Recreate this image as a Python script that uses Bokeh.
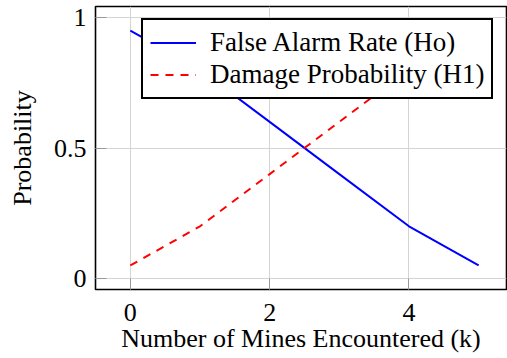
from bokeh.plotting import figure
from bokeh.models import (FixedTicker, Legend, LegendItem, Range1d)
from bokeh.embed import file_html
from bokeh.resources import INLINE

# data
k_values = [0, 1, 2, 3, 4, 5]
false_alarm = [0.95, 0.80, 0.60, 0.40, 0.20, 0.05]
damage_prob = [0.05, 0.20, 0.40, 0.60, 0.80, 0.95]
x_ticks = [0, 2, 4]
x_tick_labels = ["0", "2", "4"]
y_ticks = [0, 0.5, 1]
y_tick_labels = ["0", "0.5", "1"]

FONT = "Liberation Serif"

p = figure(width=507, height=358, output_backend="svg", toolbar_location=None,
           x_range=Range1d(-0.5, 5.4), y_range=Range1d(-0.042, 1.042),
           min_border_left=95, min_border_right=1, min_border_top=6, min_border_bottom=69)

p.outline_line_color = "black"
p.outline_line_alpha = 1
p.outline_line_width = 1.6
p.background_fill_color = "white"
p.border_fill_color = "white"

for ax in (p.xaxis[0], p.yaxis[0]):
    ax.axis_line_color = None
    ax.major_tick_in = 11
    ax.major_tick_out = 0
    ax.major_tick_line_color = "#999999"
    ax.major_tick_line_width = 1
    ax.minor_tick_line_color = None
    ax.major_label_text_font = FONT
    ax.major_label_text_font_size = "26px"
    ax.major_label_text_color = "black"
    ax.axis_label_text_font = FONT
    ax.axis_label_text_font_size = "26px"
    ax.axis_label_text_font_style = "normal"
    ax.axis_label_text_color = "black"

p.xaxis[0].ticker = FixedTicker(ticks=x_ticks)
p.xaxis[0].major_label_overrides = {t: l for t, l in zip(x_ticks, x_tick_labels)}
p.yaxis[0].ticker = FixedTicker(ticks=y_ticks)
p.yaxis[0].major_label_overrides = {t: l for t, l in zip(y_ticks, y_tick_labels)}
p.xaxis[0].axis_label = "Number of Mines Encountered (k)"
p.yaxis[0].axis_label = "Probability"
p.xaxis[0].major_label_standoff = 14
p.xaxis[0].axis_label_standoff = 0
p.yaxis[0].major_label_standoff = 9
p.yaxis[0].axis_label_standoff = 14

p.xgrid.ticker = FixedTicker(ticks=x_ticks)
p.ygrid.ticker = FixedTicker(ticks=y_ticks)
p.grid.grid_line_color = "#d4d4d4"
p.grid.grid_line_width = 1

blue = p.line(k_values, false_alarm, line_color="#0000ff", line_width=2)
red = p.line(k_values, damage_prob, line_color="#ff0000", line_width=2, line_dash="8 7")

legend = Legend(items=[LegendItem(label="False Alarm Rate (Ho)", renderers=[blue]),
                       LegendItem(label="Damage Probability (H1)", renderers=[red])],
                location=(46, 190))
legend.label_text_font = FONT
legend.label_text_font_size = "27px"
legend.label_text_color = "black"
legend.border_line_color = "black"
legend.border_line_alpha = 1
legend.border_line_width = 2
legend.background_fill_alpha = 1
legend.padding = 7
legend.spacing = 1
legend.margin = 0
legend.glyph_width = 46
legend.glyph_height = 27
legend.label_height = 27
legend.label_standoff = 14
p.add_layout(legend, "center")

out = file_html(p, INLINE)
open("out.html", "w").write(out)
